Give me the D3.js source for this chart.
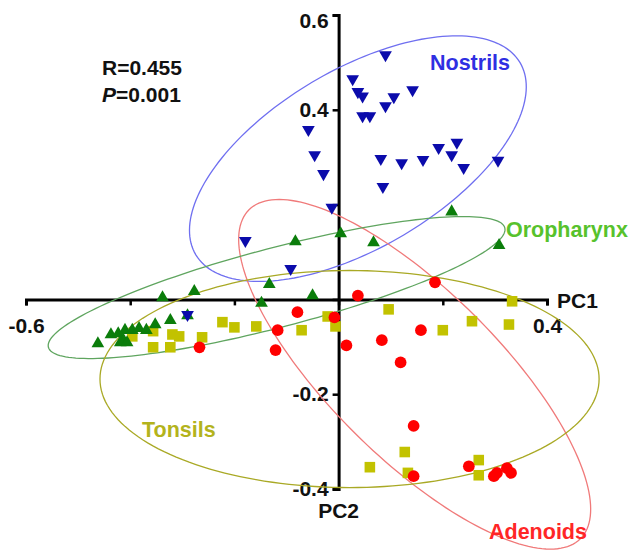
<!DOCTYPE html>
<html>
<head>
<meta charset="utf-8">
<script src="https://cdn.jsdelivr.net/npm/d3@7"></script>
<style>
    body { margin: 0; background: #fff; }
    text { font-family: "Liberation Sans", Arial, sans-serif; font-weight: bold; }
</style>
</head>
<body>
<svg id="chart"></svg>
<script>
// PCoA scores, [PC1, PC2]
const nostrils = [
    [0.090, 0.516], [0.027, 0.465], [0.037, 0.438], [0.046, 0.429], [0.046, 0.387],
    [0.060, 0.387], [0.090, 0.408], [0.106, 0.427], [0.142, 0.442], [-0.058, 0.358],
    [-0.046, 0.305], [-0.029, 0.265], [-0.013, 0.194], [0.081, 0.297], [0.085, 0.238],
    [0.121, 0.288], [0.162, 0.295], [0.192, 0.320], [0.227, 0.331], [0.217, 0.305],
    [0.240, 0.278], [0.306, 0.293], [-0.179, 0.124], [-0.092, 0.065], [-0.290, -0.032]
];
const oropharynx = [
    [-0.462, -0.093], [-0.437, -0.074], [-0.423, -0.072], [-0.410, -0.065], [-0.396, -0.065],
    [-0.383, -0.061], [-0.369, -0.065], [-0.352, -0.053], [-0.323, -0.044], [-0.413, -0.086],
    [-0.419, -0.091], [-0.406, -0.091], [-0.338, 0.004], [-0.277, 0.017], [-0.290, -0.034],
    [-0.133, 0.032], [-0.148, -0.008], [-0.050, 0.008], [-0.083, 0.122], [0.004, 0.139],
    [0.067, 0.120], [0.217, 0.185], [0.308, 0.114]
];
const tonsils = [
    [-0.396, -0.078], [-0.356, -0.067], [-0.319, -0.074], [-0.306, -0.078], [-0.262, -0.080],
    [-0.356, -0.101], [-0.323, -0.101], [-0.223, -0.048], [-0.200, -0.059], [-0.158, -0.057],
    [-0.071, -0.065], [-0.021, -0.036], [-0.006, -0.057], [0.096, -0.021], [0.200, -0.065],
    [0.256, -0.046], [0.327, -0.053], [0.333, -0.004], [0.060, -0.354], [0.127, -0.322],
    [0.133, -0.366], [0.269, -0.339], [0.269, -0.371]
];
const adenoids = [
    [0.037, 0.008], [0.185, 0.036], [-0.008, -0.038], [0.015, -0.097], [0.083, -0.086],
    [0.158, -0.065], [0.119, -0.133], [0.144, -0.267], [0.144, -0.373], [0.250, -0.352],
    [0.298, -0.373], [0.304, -0.366], [0.323, -0.356], [0.331, -0.366], [-0.079, -0.027],
    [-0.117, -0.065], [-0.121, -0.107], [-0.267, -0.101]
];

// group ellipses: centre and two conjugate half-axes, in data units
const ellipseCenters = { Nostrils: [0.037, 0.297], Adenoids: [0.146, -0.158], Oropharynx: [-0.119, 0.025], Tonsils: [0.021, -0.168] };
const ellipseAxisU = { Nostrils: [0.311, 0.203], Adenoids: [0.318, -0.347], Oropharynx: [0.438, 0.126], Tonsils: [0.479, 0.0] };
const ellipseAxisV = { Nostrils: [0.088, -0.161], Adenoids: [0.114, 0.125], Oropharynx: [0.019, -0.081], Tonsils: [0.0, -0.229] };

const xTicks = [-0.6, -0.4, -0.2, 0, 0.2, 0.4];
const xTickLabels = ['-0.6', '', '', '', '', '0.4'];
const yTicks = [-0.4, -0.2, 0, 0.2, 0.4, 0.6];
const yTickLabels = ['-0.4', '-0.2', '', '', '0.4', '0.6'];

const width = 632, height = 551;

const svg = d3.select('#chart')
    .attr('width', width)
    .attr('height', height);

const xscale = d3.scaleLinear()
    .domain([-0.6, 0.4])
    .range([26, 547]);

const yscale = d3.scaleLinear()
    .domain([-0.4, 0.6])
    .range([489, 15]);

// axes crossing at the origin
const xaxis = d3.axisBottom(xscale)
    .tickValues(xTicks)
    .tickFormat((d, i) => xTickLabels[i])
    .tickSize(6)
    .tickSizeOuter(6)
    .tickPadding(13);

const yaxis = d3.axisLeft(yscale)
    .tickValues(yTicks)
    .tickFormat((d, i) => yTickLabels[i])
    .tickSize(6)
    .tickSizeOuter(6)
    .tickPadding(4);

const xaxis_group = svg.append('g')
    .attr('transform', `translate(0, ${yscale(0)})`)
    .call(xaxis);

const yaxis_group = svg.append('g')
    .attr('transform', `translate(${xscale(0)}, 0)`)
    .call(yaxis);

[xaxis_group, yaxis_group].forEach(g => {
    g.select('.domain').attr('stroke', '#000').attr('stroke-width', 3);
    g.selectAll('.tick line').attr('stroke', '#000').attr('stroke-width', 2.5);
    g.selectAll('.tick text')
        .attr('fill', '#111')
        .style('font-size', '21px')
        .style('font-family', '"Liberation Sans", Arial, sans-serif')
        .style('font-weight', 'bold');
});

// top label sits a little below its tick
yaxis_group.selectAll('.tick text')
    .filter(d => d === 0.6)
    .attr('dy', '0.6em');

// ellipses
const groups = [
    { name: 'Nostrils', stroke: '#6f6ff0' },
    { name: 'Adenoids', stroke: '#f07a7a' },
    { name: 'Oropharynx', stroke: '#5fa55f' },
    { name: 'Tonsils', stroke: '#a9a925' }
];

const line = d3.line()
    .x(d => xscale(d[0]))
    .y(d => yscale(d[1]))
    .curve(d3.curveLinearClosed);

groups.forEach(g => {
    const c = ellipseCenters[g.name], u = ellipseAxisU[g.name], v = ellipseAxisV[g.name];
    const pts = d3.range(0, 2 * Math.PI, Math.PI / 90).map(t => [
        c[0] + u[0] * Math.cos(t) + v[0] * Math.sin(t),
        c[1] + u[1] * Math.cos(t) + v[1] * Math.sin(t)
    ]);
    svg.append('path')
        .attr('d', line(pts))
        .attr('fill', 'none')
        .attr('stroke', g.stroke)
        .attr('stroke-width', 1.3);
});

// points
const series = [
    { data: tonsils, symbol: d3.symbolSquare, size: 112, fill: '#c2c200', rot: 0 },
    { data: adenoids, symbol: d3.symbolCircle, size: 108, fill: '#ff0000', rot: 0 },
    { data: oropharynx, symbol: d3.symbolTriangle, size: 70, fill: '#0b7d0b', rot: 0 },
    { data: nostrils, symbol: d3.symbolTriangle, size: 70, fill: '#0b0bab', rot: 180 }
];

series.forEach(s => {
    svg.append('g')
        .selectAll('path')
        .data(s.data)
        .join('path')
        .attr('d', d3.symbol().type(s.symbol).size(s.size))
        .attr('transform', d => `translate(${xscale(d[0])}, ${yscale(d[1])}) rotate(${s.rot})`)
        .attr('fill', s.fill);
});

// labels
const labels = [
    { text: 'Nostrils', x: 430, y: 70, fill: '#2f2fe2' },
    { text: 'Oropharynx', x: 506, y: 237, fill: '#57c22c' },
    { text: 'Tonsils', x: 142, y: 437, fill: '#b3b31c' },
    { text: 'Adenoids', x: 489, y: 539, fill: '#ff2626' }
];

svg.selectAll('.grp-label')
    .data(labels)
    .join('text')
    .attr('class', 'grp-label')
    .attr('x', d => d.x)
    .attr('y', d => d.y)
    .attr('fill', d => d.fill)
    .style('font-size', '21.5px')
    .text(d => d.text);

svg.append('text')
    .attr('x', 557)
    .attr('y', 308)
    .attr('fill', '#111')
    .style('font-size', '21px')
    .text('PC1');

svg.append('text')
    .attr('x', xscale(0))
    .attr('y', 518)
    .attr('text-anchor', 'middle')
    .attr('fill', '#111')
    .style('font-size', '21px')
    .text('PC2');

svg.append('text')
    .attr('x', 102)
    .attr('y', 75)
    .attr('fill', '#111')
    .style('font-size', '21px')
    .text('R=0.455');

const ptext = svg.append('text')
    .attr('x', 102)
    .attr('y', 102)
    .attr('fill', '#111')
    .style('font-size', '21px');
ptext.append('tspan').style('font-style', 'italic').text('P');
ptext.append('tspan').text('=0.001');
</script>
</body>
</html>
